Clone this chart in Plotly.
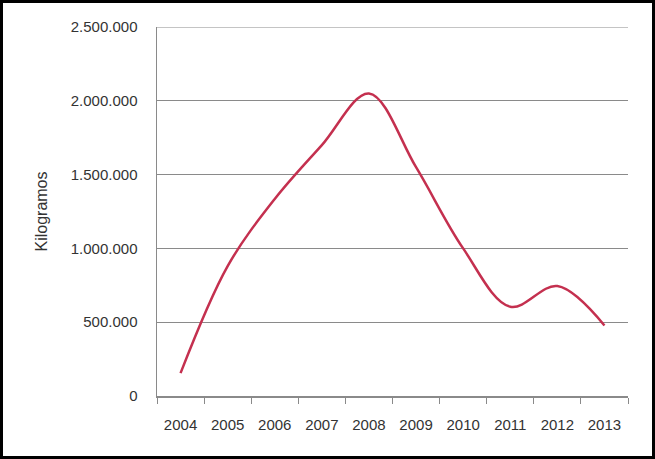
import plotly.graph_objects as go

years = ["2004", "2005", "2006", "2007", "2008", "2009", "2010", "2011", "2012", "2013"]
kilogramos = [155000, 880000, 1335000, 1700000, 2050000, 1550000, 1000000, 605000, 745000, 478000]
y_ticks = [0, 500000, 1000000, 1500000, 2000000, 2500000]
y_max = 2500000

W, H = 655, 459
L, R, T, B = 157, 27, 27, 63
pw, ph = W - L - R, H - T - B

def px_x(p):
    return (p - L) / pw

def px_y(p):
    return (H - B - p) / ph

fig = go.Figure()
fig.add_trace(go.Scatter(
    x=years, y=kilogramos, mode="lines",
    line=dict(color="#C4304F", width=2.5, shape="spline", smoothing=1.0),
    hoverinfo="skip",
))

font = dict(family="Liberation Sans, Arial, sans-serif", size=15, color="#333333")

fig.update_layout(
    width=W, height=H,
    margin=dict(l=L, r=R, t=T, b=B),
    paper_bgcolor="white", plot_bgcolor="white",
    separators=",.",
    showlegend=False,
    font=font,
    xaxis=dict(
        type="category", range=[-0.5, len(years) - 0.5], showgrid=False,
        showline=True, linecolor="#8a8a8a", linewidth=1.5,
        ticks="outside", tickson="boundaries", ticklen=6, tickcolor="#8a8a8a", tickwidth=1,
        ticklabelstandoff=14, tickfont=font, zeroline=False,
    ),
    yaxis=dict(
        range=[0, y_max], tickvals=y_ticks, tickformat=",d",
        showgrid=True, gridcolor="#8a8a8a", gridwidth=1.2,
        showline=True, linecolor="#8a8a8a", linewidth=1.5, zeroline=False,
        ticks="", ticklabelstandoff=15, tickfont=font,
        title=dict(text="Kilogramos", font=dict(family="Liberation Sans, Arial, sans-serif", size=16, color="#333333"), standoff=19),
    ),
    shapes=[
        dict(type="line", xref="paper", yref="y", x0=0, x1=1, y0=y_max, y1=y_max,
             line=dict(color="#8a8a8a", width=1.2), layer="below"),
        dict(type="rect", xref="paper", yref="paper",
             x0=px_x(1.5), x1=px_x(W - 1.5), y0=px_y(H - 1.5), y1=px_y(1.5),
             line=dict(color="black", width=3), fillcolor="rgba(0,0,0,0)", layer="above"),
    ],
)

fig.write_html("out.html", config={"displayModeBar": False, "staticPlot": True},
               post_script="document.body.style.margin='0';document.body.style.overflow='hidden';")
